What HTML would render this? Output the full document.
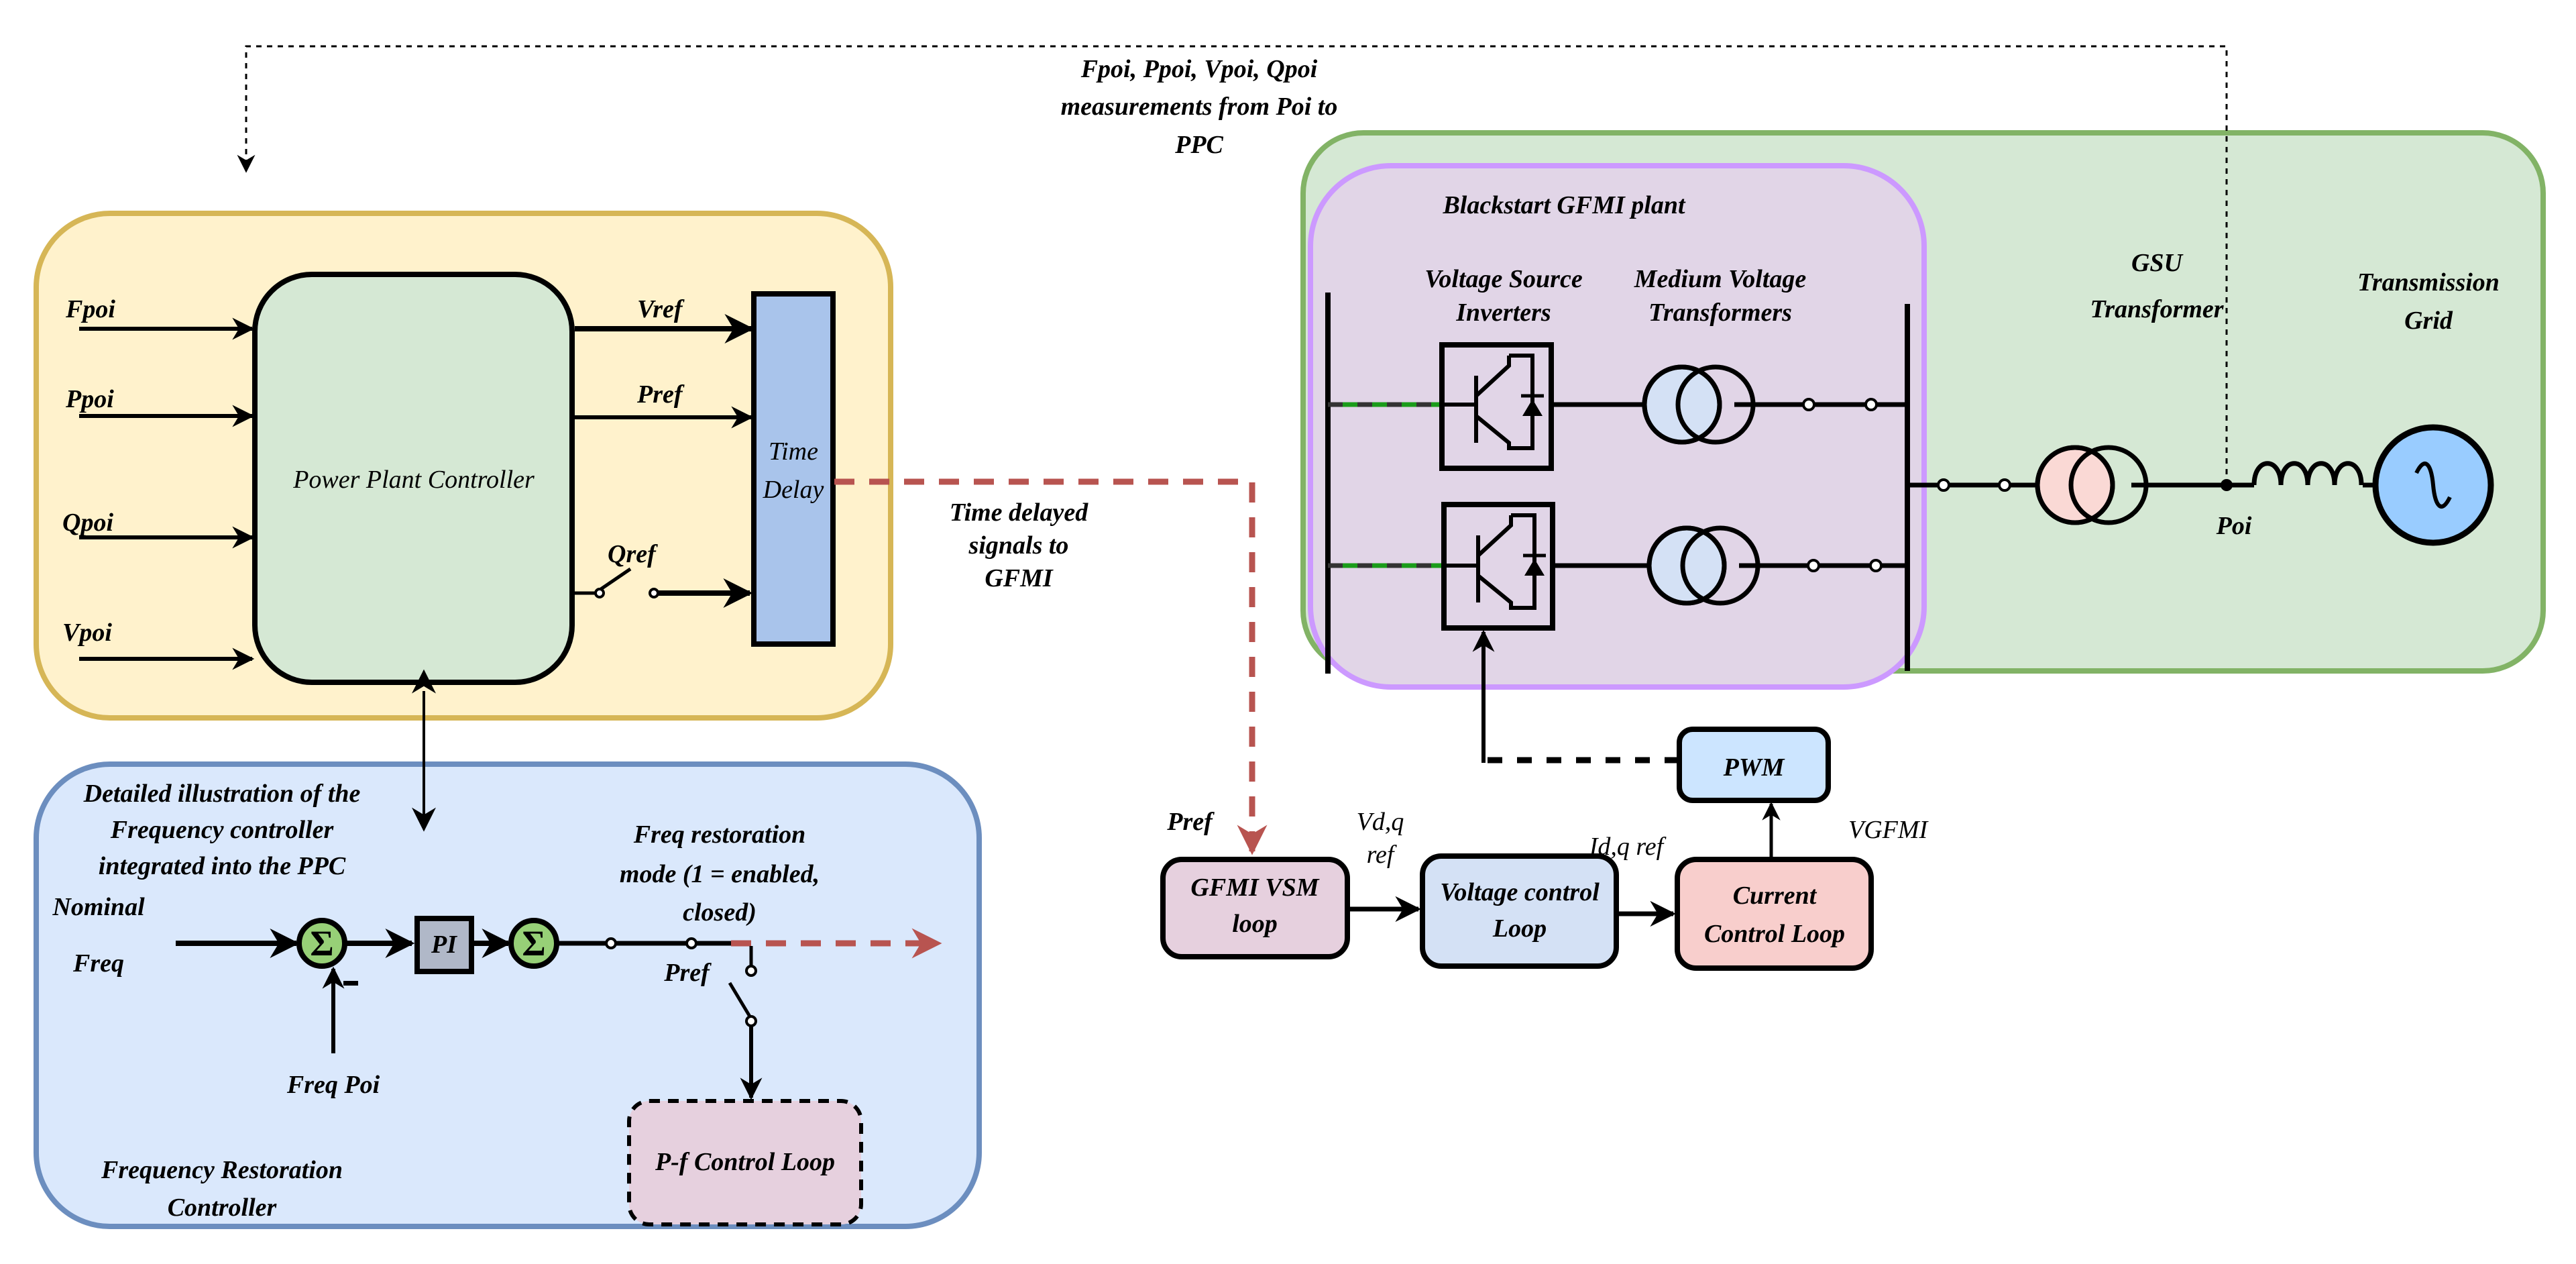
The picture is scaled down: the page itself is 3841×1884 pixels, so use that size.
<!DOCTYPE html>
<html><head><meta charset="utf-8"><style>
html,body{margin:0;padding:0;background:#fff;}
svg{display:block;}
text{font-family:"Liberation Serif",serif;font-style:italic;font-size:38px;fill:#000;}
.b{font-weight:bold;}
</style></head><body>
<svg width="3841" height="1884" viewBox="0 0 3841 1884" xmlns="http://www.w3.org/2000/svg">
<defs>
<marker id="ah" viewBox="0 0 10 10" refX="9" refY="5" markerWidth="5.5" markerHeight="5.5" orient="auto" markerUnits="strokeWidth"><path d="M0,0 L10,5 L0,10 L3,5 z" fill="#000"/></marker>
<marker id="ahs" viewBox="0 0 10 10" refX="9" refY="5" markerWidth="9" markerHeight="9" orient="auto" markerUnits="strokeWidth"><path d="M0,0 L10,5 L0,10 L3,5 z" fill="#000"/></marker>
<marker id="ahs2" viewBox="0 0 10 10" refX="1" refY="5" markerWidth="9" markerHeight="9" orient="auto-start-reverse" markerUnits="strokeWidth"><path d="M0,0 L10,5 L0,10 L3,5 z" fill="#000"/></marker>
<marker id="ahr" viewBox="0 0 10 10" refX="9" refY="5" markerWidth="5" markerHeight="5" orient="auto" markerUnits="strokeWidth"><path d="M0,0 L10,5 L0,10 L3,5 z" fill="#b85450"/></marker>
</defs>

<text x="1788" y="115" text-anchor="middle" class="b">Fpoi, Ppoi, Vpoi, Qpoi</text>
<text x="1788" y="171" text-anchor="middle" class="b">measurements from Poi to</text>
<text x="1788" y="228" text-anchor="middle" class="b">PPC</text>

<!-- Yellow PPC area -->
<rect x="54" y="318" width="1274" height="752" rx="110" fill="#fff2cc" stroke="#d6b656" stroke-width="8"/>
<rect x="380" y="409" width="473" height="608" rx="85" fill="#d5e8d4" stroke="#000" stroke-width="8"/>
<text x="617" y="727" text-anchor="middle">Power Plant Controller</text>
<rect x="1124" y="438" width="118" height="522" fill="#a9c4eb" stroke="#000" stroke-width="8"/>
<text x="1183" y="685" text-anchor="middle">Time</text>
<text x="1183" y="742" text-anchor="middle">Delay</text>
<g stroke="#000" stroke-width="6" marker-end="url(#ah)">
<line x1="118" y1="490" x2="376" y2="490"/>
<line x1="118" y1="620" x2="376" y2="620"/>
<line x1="118" y1="801" x2="376" y2="801"/>
<line x1="118" y1="982" x2="376" y2="982"/>
<line x1="857" y1="490" x2="1120" y2="490" stroke-width="8"/>
<line x1="857" y1="622" x2="1120" y2="622"/>
<line x1="980" y1="884" x2="1118" y2="884" stroke-width="8"/>
</g>
<text x="98" y="473" class="b">Fpoi</text>
<text x="98" y="607" class="b">Ppoi</text>
<text x="93" y="791" class="b">Qpoi</text>
<text x="93" y="955" class="b">Vpoi</text>
<text x="950" y="473" class="b">Vref</text>
<text x="950" y="600" class="b">Pref</text>
<text x="906" y="838" class="b">Qref</text>
<line x1="853" y1="884" x2="888" y2="884" stroke="#000" stroke-width="5"/>
<line x1="896" y1="878" x2="940" y2="848" stroke="#000" stroke-width="5"/>
<circle cx="894" cy="884" r="6" fill="#fff" stroke="#000" stroke-width="4"/>
<circle cx="975" cy="884" r="6" fill="#fff" stroke="#000" stroke-width="4"/>

<!-- red dashed from time delay -->
<polyline points="1244,718 1867,718 1867,1270" fill="none" stroke="#b85450" stroke-width="9" stroke-dasharray="30,22" marker-end="url(#ahr)"/>
<text x="1519" y="776" text-anchor="middle" class="b">Time delayed</text>
<text x="1519" y="825" text-anchor="middle" class="b">signals to</text>
<text x="1519" y="874" text-anchor="middle" class="b">GFMI</text>

<!-- Blue freq restoration -->
<rect x="54" y="1139" width="1406" height="689" rx="110" fill="#dae8fc" stroke="#6c8ebf" stroke-width="8"/>
<line x1="632" y1="1030" x2="632" y2="1236" stroke="#000" stroke-width="4" marker-start="url(#ahs2)" marker-end="url(#ahs)"/>
<text x="331" y="1195" text-anchor="middle" class="b">Detailed illustration of the</text>
<text x="331" y="1249" text-anchor="middle" class="b">Frequency controller</text>
<text x="331" y="1303" text-anchor="middle" class="b">integrated into the PPC</text>
<text x="1073" y="1256" text-anchor="middle" class="b">Freq restoration</text>
<text x="1073" y="1315" text-anchor="middle" class="b">mode (1 = enabled,</text>
<text x="1073" y="1372" text-anchor="middle" class="b">closed)</text>
<text x="147" y="1364" text-anchor="middle" class="b">Nominal</text>
<text x="147" y="1448" text-anchor="middle" class="b">Freq</text>
<text x="497" y="1629" text-anchor="middle" class="b">Freq Poi</text>
<text x="331" y="1756" text-anchor="middle" class="b">Frequency Restoration</text>
<text x="331" y="1812" text-anchor="middle" class="b">Controller</text>
<g stroke="#000" stroke-width="8" marker-end="url(#ah)">
<line x1="262" y1="1406" x2="442" y2="1406"/>
<line x1="516" y1="1406" x2="614" y2="1406"/>
<line x1="705" y1="1406" x2="758" y2="1406"/>
<line x1="497" y1="1570" x2="497" y2="1444" stroke-width="6"/>
</g>
<circle cx="480" cy="1406" r="34" fill="#97d077" stroke="#000" stroke-width="8"/>
<text x="480" y="1424" text-anchor="middle" class="b" style="font-style:normal;font-size:54px">Σ</text>
<rect x="622" y="1369" width="81" height="79" fill="#b0b8c8" stroke="#000" stroke-width="8"/>
<text x="662" y="1420" text-anchor="middle" class="b">PI</text>
<circle cx="796" cy="1406" r="34" fill="#97d077" stroke="#000" stroke-width="8"/>
<text x="796" y="1424" text-anchor="middle" class="b" style="font-style:normal;font-size:54px">Σ</text>
<rect x="512" y="1462" width="22" height="7" fill="#000"/>
<line x1="830" y1="1406" x2="1090" y2="1406" stroke="#000" stroke-width="7"/>
<circle cx="911" cy="1406" r="7" fill="#fff" stroke="#000" stroke-width="4"/>
<circle cx="1031" cy="1406" r="7" fill="#fff" stroke="#000" stroke-width="4"/>
<line x1="1090" y1="1406" x2="1400" y2="1406" stroke="#b85450" stroke-width="9" stroke-dasharray="30,22" marker-end="url(#ahr)"/>
<text x="1024" y="1462" text-anchor="middle" class="b">Pref</text>
<line x1="1120" y1="1410" x2="1120" y2="1440" stroke="#000" stroke-width="5"/>
<circle cx="1120" cy="1447" r="7" fill="#fff" stroke="#000" stroke-width="4"/>
<line x1="1088" y1="1465" x2="1118" y2="1515" stroke="#000" stroke-width="5"/>
<circle cx="1120" cy="1522" r="7" fill="#fff" stroke="#000" stroke-width="4"/>
<line x1="1120" y1="1529" x2="1120" y2="1636" stroke="#000" stroke-width="6" marker-end="url(#ah)"/>
<rect x="938" y="1641" width="346" height="184" rx="30" fill="#e6d0de" stroke="#000" stroke-width="6" stroke-dasharray="16,12"/>
<text x="1111" y="1744" text-anchor="middle" class="b">P-f Control Loop</text>

<!-- Green transmission area -->
<rect x="1943" y="198" width="1849" height="802" rx="90" fill="#d5e8d4" stroke="#82b366" stroke-width="8"/>
<rect x="1954" y="247" width="915" height="777" rx="120" fill="#e1d5e7" stroke="#cc99ff" stroke-width="8"/>
<text x="2332" y="318" text-anchor="middle" class="b">Blackstart GFMI plant</text>
<text x="2242" y="428" text-anchor="middle" class="b">Voltage Source</text>
<text x="2242" y="478" text-anchor="middle" class="b">Inverters</text>
<text x="2565" y="428" text-anchor="middle" class="b">Medium Voltage</text>
<text x="2565" y="478" text-anchor="middle" class="b">Transformers</text>
<text x="3216" y="404" text-anchor="middle" class="b">GSU</text>
<text x="3216" y="473" text-anchor="middle" class="b">Transformer</text>
<text x="3621" y="433" text-anchor="middle" class="b">Transmission</text>
<text x="3621" y="490" text-anchor="middle" class="b">Grid</text>
<text x="3331" y="796" text-anchor="middle" class="b">Poi</text>

<line x1="1980" y1="436" x2="1980" y2="1004" stroke="#000" stroke-width="8"/>
<line x1="2844" y1="453" x2="2844" y2="1000" stroke="#000" stroke-width="8"/>
<g>
<line x1="1980" y1="603" x2="2148" y2="603" stroke="#333" stroke-width="7" stroke-dasharray="22,22"/>
<line x1="2002" y1="603" x2="2148" y2="603" stroke="#1a9c1a" stroke-width="7" stroke-dasharray="22,22"/>
<line x1="1980" y1="843" x2="2151" y2="843" stroke="#333" stroke-width="7" stroke-dasharray="22,22"/>
<line x1="2002" y1="843" x2="2151" y2="843" stroke="#1a9c1a" stroke-width="7" stroke-dasharray="22,22"/>
</g>
<g fill="none" stroke="#000" stroke-width="6">
<rect x="2150" y="514" width="163" height="184" fill="#e1d5e7" stroke-width="8"/>
<rect x="2153" y="752" width="162" height="184" fill="#e1d5e7" stroke-width="8"/>
<path d="M2201,560 L2201,660 M2201,590 L2250,545 L2250,530 M2250,530 L2285,530 L2285,668 L2250,668 L2250,660 L2201,620 M2150,603 L2201,603"/>
<path d="M2204,798 L2204,898 M2204,828 L2253,783 L2253,768 M2253,768 L2288,768 L2288,906 L2253,906 L2253,898 L2204,858 M2153,843 L2204,843"/>
</g>
<path d="M2270,620 L2300,620 L2285,595 z" fill="#000"/>
<path d="M2268,590 L2302,590" stroke="#000" stroke-width="5"/>
<path d="M2273,858 L2303,858 L2288,833 z" fill="#000"/>
<path d="M2271,828 L2305,828" stroke="#000" stroke-width="5"/>
<g stroke="#000" stroke-width="7">
<line x1="2313" y1="603" x2="2480" y2="603"/>
<line x1="2586" y1="603" x2="2844" y2="603"/>
<line x1="2315" y1="843" x2="2487" y2="843"/>
<line x1="2593" y1="843" x2="2844" y2="843"/>
<line x1="2844" y1="723" x2="3060" y2="723"/>
<line x1="3178" y1="723" x2="3361" y2="723"/>
<line x1="3523" y1="723" x2="3542" y2="723"/>
</g>
<g stroke="#000" stroke-width="7" fill="#d4e1f5">
<circle cx="2508" cy="603" r="56"/><circle cx="2558" cy="603" r="56" fill="none"/>
<circle cx="2515" cy="843" r="56"/><circle cx="2565" cy="843" r="56" fill="none"/>
<circle cx="3094" cy="723" r="56" fill="#fad9d5"/><circle cx="3144" cy="723" r="56" fill="none"/>
</g>
<circle cx="2508" cy="603" r="56" fill="none" stroke="#000" stroke-width="7"/>
<circle cx="2515" cy="843" r="56" fill="none" stroke="#000" stroke-width="7"/>
<circle cx="3094" cy="723" r="56" fill="none" stroke="#000" stroke-width="7"/>
<g fill="#fff" stroke="#000" stroke-width="4">
<circle cx="2697" cy="603" r="8"/><circle cx="2790" cy="603" r="8"/>
<circle cx="2704" cy="843" r="8"/><circle cx="2797" cy="843" r="8"/>
<circle cx="2898" cy="723" r="8"/><circle cx="2989" cy="723" r="8"/>
</g>
<path d="M3361,723 C3361,680 3401,680 3401,723 C3401,680 3441,680 3441,723 C3441,680 3481,680 3481,723 C3481,680 3521,680 3521,723" fill="none" stroke="#000" stroke-width="7"/>
<circle cx="3628" cy="723" r="86" fill="#99ccff" stroke="#000" stroke-width="9"/>
<path d="M3603,705 C3615,680 3625,690 3628,723 C3631,756 3641,766 3653,741" fill="none" stroke="#000" stroke-width="6"/>

<!-- top dotted feedback (drawn over boxes) -->
<polyline points="3320,723 3320,69 367,69 367,255" fill="none" stroke="#000" stroke-width="3" stroke-dasharray="8,8" marker-end="url(#ahs)"/>
<circle cx="3320" cy="723" r="9" fill="#000"/>

<!-- bottom control chain -->
<polyline points="2504,1133 2212,1133" fill="none" stroke="#000" stroke-width="9" stroke-dasharray="22,22"/>
<line x1="2212" y1="1137" x2="2212" y2="942" stroke="#000" stroke-width="6" marker-end="url(#ah)"/>
<rect x="2504" y="1087" width="222" height="106" rx="20" fill="#cce5ff" stroke="#000" stroke-width="8"/>
<text x="2615" y="1156" text-anchor="middle" class="b">PWM</text>
<line x1="2641" y1="1279" x2="2641" y2="1198" stroke="#000" stroke-width="5" marker-end="url(#ah)"/>
<text x="2756" y="1249">VGFMI</text>

<rect x="1734" y="1281" width="275" height="145" rx="28" fill="#e6d0de" stroke="#000" stroke-width="8"/>
<text x="1871" y="1335" text-anchor="middle" class="b">GFMI VSM</text>
<text x="1871" y="1389" text-anchor="middle" class="b">loop</text>
<rect x="2121" y="1276" width="289" height="164" rx="28" fill="#d4e1f5" stroke="#000" stroke-width="8"/>
<text x="2266" y="1342" text-anchor="middle" class="b">Voltage control</text>
<text x="2266" y="1396" text-anchor="middle" class="b">Loop</text>
<rect x="2501" y="1281" width="289" height="162" rx="28" fill="#f8cecc" stroke="#000" stroke-width="8"/>
<text x="2646" y="1347" text-anchor="middle" class="b">Current</text>
<text x="2646" y="1404" text-anchor="middle" class="b">Control Loop</text>
<g stroke="#000" stroke-width="7" marker-end="url(#ah)">
<line x1="2013" y1="1355" x2="2115" y2="1355"/>
<line x1="2414" y1="1362" x2="2495" y2="1362"/>
</g>
<text x="1774" y="1237" text-anchor="middle" class="b">Pref</text>
<text x="2058" y="1237" text-anchor="middle">Vd,q</text>
<text x="2058" y="1286" text-anchor="middle">ref</text>
<text x="2425" y="1274" text-anchor="middle">Id,q ref</text>
</svg>
</body></html>
